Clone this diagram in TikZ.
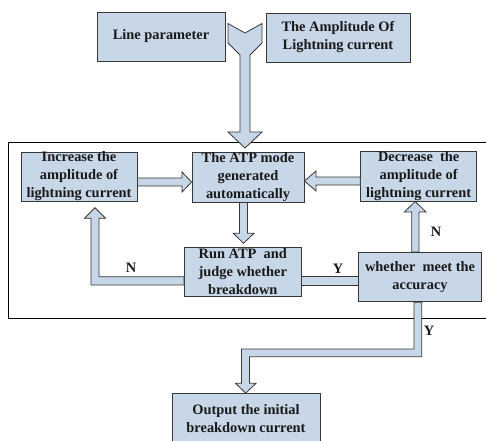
\documentclass[tikz,border=0pt]{standalone}
\usepackage{fontspec}
\setmainfont{Liberation Serif}
\definecolor{boxfill}{RGB}{200,215,232}
\definecolor{boxline}{RGB}{55,55,55}
\tikzset{
  box/.style={draw=boxline, fill=boxfill, line width=0.8pt, inner sep=0pt,
    align=center, font=\fontsize{14.4}{18}\selectfont\bfseries, text=black!90},
  barrow/.style={draw=boxline, fill=boxfill, line width=0.8pt, line join=miter},
  lbl/.style={font=\fontsize{14.4}{18}\selectfont\bfseries, text=black!90, inner sep=0pt},
  frameline/.style={draw=black, line width=0.8pt}
}
\begin{document}
\begin{tikzpicture}[x=1pt,y=-1pt]
\useasboundingbox (0,0) rectangle (486,440);
% frame
\draw[frameline] (490,142) -- (8,142) -- (8,318) -- (490,318);
% boxes
\node[box, minimum width=128, minimum height=49] (lp) at (161,36.5) {Line parameter};
\node[box, minimum width=144, minimum height=49] (amp) at (338,37.5) {The Amplitude Of\\Lightning current};
\node[box, minimum width=116, minimum height=49] (inc) at (79,176.5) {Increase the\\amplitude of\\lightning current};
\node[box, minimum width=112, minimum height=50] (atp) at (248,177) {The ATP mode\\generated\\automatically};
\node[box, minimum width=116, minimum height=49.3] (dec) at (418.7,176.4) {Decrease\ \ the\\amplitude of\\lightning current};
\node[box, minimum width=116.5, minimum height=48.7] (run) at (242.75,271.6) {Run ATP\ \ and\\judge whether\\breakdown};
\node[box, minimum width=123.4, minimum height=49.4] (wh) at (420,277) {whether\ \ meet the\\accuracy};
\node[box, minimum width=148, minimum height=50] (out) at (246,418.5) {Output the initial\\breakdown current};
% top merge arrow
\coordinate (topTip) at (245,148);
\draw[barrow] (228,23.5) -- (245,33) -- (262,23.5) -- (262,43) -- (250,55) -- (250,132)
  -- (262,132) -- (topTip) -- (228,132) -- (240,132) -- (240,55) -- (228,43) -- cycle;
% inc -> atp
\draw[barrow] (inc.east |- 0,178) -- (182,178) -- (182,172) -- (atp.west |- 0,182)
  -- (182,192) -- (182,186) -- (inc.east |- 0,186) -- cycle;
% dec -> atp
\draw[barrow] (dec.west |- 0,177) -- (316,177) -- (316,171) -- (atp.east |- 0,181)
  -- (316,191) -- (316,185) -- (dec.west |- 0,185) -- cycle;
% atp -> run
\draw[barrow] (239.5,0 |- atp.south) -- (239.5,233.3) -- (233.3,233.3) -- (243.5,243.3)
  -- (254,233.3) -- (247.5,233.3) -- (247.5,0 |- atp.south) -- cycle;
% run -> wh
\draw[barrow] (run.east |- 0,276.7) -- (wh.west |- 0,276.7) -- (wh.west |- 0,285)
  -- (run.east |- 0,285) -- cycle;
% run -> inc (N)
\draw[barrow] (run.west |- 0,276.7) -- (99,276.7) -- (99,218.3) -- (105.5,218.3)
  -- (95,207.7) -- (84.5,218.3) -- (91,218.3) -- (91,285) -- (run.west |- 0,285) -- cycle;
% wh -> dec (N)
\draw[barrow] (411.7,0 |- wh.north) -- (411.7,212) -- (404.3,212) -- (415.2,201.5)
  -- (426,212) -- (419,212) -- (419,0 |- wh.north) -- cycle;
% wh -> out (Y)
\draw[barrow] (414,0 |- wh.south) -- (414,349) -- (241.5,349) -- (241.5,383.3)
  -- (235.5,383.3) -- (245.7,0 |- out.north) -- (256,383.3) -- (249.5,383.3)
  -- (249.5,356.7) -- (421.7,356.7) -- (421.7,0 |- wh.south) -- cycle;
% labels
\node[lbl] (n1) at (131,267.7) {N};
\node[lbl] (y1) at (338,268.3) {Y};
\node[lbl] (n2) at (436,231.7) {N};
\node[lbl] (y2) at (429,331) {Y};
\end{tikzpicture}
\end{document}
